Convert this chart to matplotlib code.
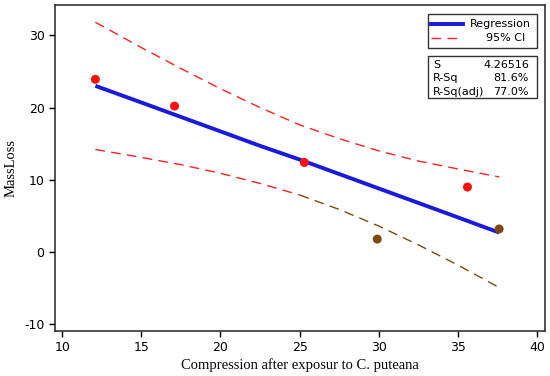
import numpy as np
import matplotlib
matplotlib.use("Agg")
import matplotlib.pyplot as plt
from matplotlib.patches import Rectangle
from matplotlib.lines import Line2D

plt.rcParams["axes.unicode_minus"] = False

# observed points
comp = [12.1, 17.1, 25.3, 29.9, 35.6, 37.6]
mass_loss = [23.9, 20.2, 12.4, 1.8, 9.0, 3.2]
point_colors = ["#ff1010", "#ff1010", "#ff1010", "#7a4a10", "#ff1010", "#7a4a10"]

# fitted line and 95% CI
fit_x = [12.1, 15, 17.5, 20, 22.5, 25, 27.5, 30, 32.5, 35, 37.6]
fit_y = [23.0, 20.7, 18.7, 16.7, 14.7, 12.8, 10.8, 8.8, 6.8, 4.8, 2.7]
ci_upper = [31.8, 28.3, 25.4, 22.6, 20.0, 17.6, 15.7, 14.0, 12.6, 11.5, 10.4]
ci_lower = [14.2, 13.1, 12.1, 10.9, 9.5, 7.9, 5.9, 3.6, 1.0, -1.8, -4.9]

stat_names = ["S", "R-Sq", "R-Sq(adj)"]
stat_values = ["4.26516", "81.6%", "77.0%"]

fig = plt.figure(figsize=(5.5, 3.76), dpi=100)
ax = fig.add_axes([0.1, 0.12, 0.891, 0.867])

split = 5  # lower CI turns brown after x=25
dash = (7, 4.5)
ax.plot(fit_x, ci_upper, color="#ff2020", lw=1, dashes=dash)
ax.plot(fit_x[:split + 1], ci_lower[:split + 1], color="#ff2020", lw=1, dashes=dash)
ax.plot(fit_x[split:], ci_lower[split:], color="#7a4a10", lw=1, dashes=dash)
ax.plot(fit_x, fit_y, color="#1a1adc", lw=2.8, solid_capstyle="butt")
ax.scatter(comp, mass_loss, s=42, c=point_colors, zorder=5, edgecolors="none")

ax.set_xlim(9.55, 40.5)
ax.set_ylim(-10.9, 34.2)
ax.set_xticks(range(10, 41, 5))
ax.set_yticks(range(-10, 31, 10))
ax.tick_params(labelsize=9, length=4, width=1, colors="black")
for s in ax.spines.values():
    s.set_linewidth(1.2)
    s.set_color("#333333")
ax.set_xlabel("Compression after exposur to C. puteana", family="Liberation Serif", fontsize=10.5, labelpad=3)
ax.set_ylabel("MassLoss", family="Liberation Serif", fontsize=10.5, labelpad=5)

# legend box
ax.add_patch(Rectangle((0.761, 0.868), 0.223, 0.104, transform=ax.transAxes,
                       fill=False, lw=1, ec="#333333"))
ax.add_line(Line2D([0.768, 0.833], [0.940, 0.940], transform=ax.transAxes,
                   color="#1a1adc", lw=2.8))
ax.add_line(Line2D([0.768, 0.828], [0.897, 0.897], transform=ax.transAxes,
                   color="#ff2020", lw=1, dashes=dash))
ax.text(0.846, 0.940, "Regression", transform=ax.transAxes, fontsize=8, va="center")
ax.text(0.960, 0.897, "95% CI", transform=ax.transAxes, fontsize=8, va="center", ha="right")

# stats box
ax.add_patch(Rectangle((0.761, 0.715), 0.223, 0.129, transform=ax.transAxes,
                       fill=False, lw=1, ec="#333333"))
for i, (n, v) in enumerate(zip(stat_names, stat_values)):
    yy = 0.816 - i * 0.041
    ax.text(0.771, yy, n, transform=ax.transAxes, fontsize=8, va="center")
    ax.text(0.967, yy, v, transform=ax.transAxes, fontsize=8, va="center", ha="right")

fig.savefig("out.png", dpi=100)
